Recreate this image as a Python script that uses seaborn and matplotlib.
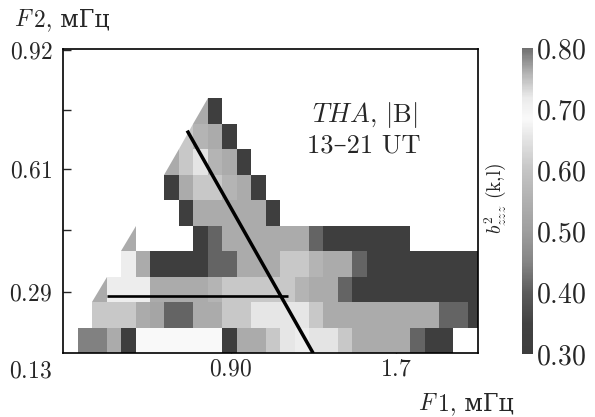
import numpy as np
import pandas as pd
import matplotlib
matplotlib.use("Agg")
import matplotlib.pyplot as plt
import seaborn as sns
from matplotlib.colors import LinearSegmentedColormap, Normalize
from matplotlib.offsetbox import TextArea, HPacker, AnnotationBbox

n = np.nan
F0 = 0.13      # mHz, first frequency bin
DF = 0.0665    # mHz per bin

# bicoherence b^2_zzz(k,l); row 0 = lowest F2 bin, 29 F1 bins per row
row0 = [n, .445, .445, .535, .31, .685, .685, .685, .685, .685, .685, .31, .535, .535, .605, .655, .665, .65, .65, .605, .535, .535, .535, .535, .41, .31, .31, n, n]
row1 = [n, n, .605, .605, .605, .535, .52, .41, .41, .535, .535, .605, .605, .655, .655, .655, .655, .605, .535, .535, .535, .535, .535, .535, .535, .535, .41, .41, .31]
row2 = [n, n, n, .665, .665, .665, .535, .535, .535, .535, .56, .605, .605, .605, .605, .605, .56, .535, .535, .41, .31, .31, .31, .31, .31, .31, .31, .31, .31]
row3 = [n, n, n, n, .665, .535, .31, .31, .31, .31, .41, .41, .535, .535, .535, .605, .605, .56, .535, .535, .41, .31, .31, .31, .31, .31, .31, .31, .31]
row4 = [n, n, n, n, n, n, n, n, n, .31, .41, .535, .535, .535, .535, .535, .535, .41, .31, .31, .31, .31, .31, .31, n, n, n, n, n]
row5 = [n, n, n, n, n, n, n, n, .31, .535, .535, .535, .535, .535, .31, n, n, n, n, n, n, n, n, n, n, n, n, n, n]
row6 = [n, n, n, n, n, n, n, .31, .535, .605, .605, .56, .535, .31, n, n, n, n, n, n, n, n, n, n, n, n, n, n, n]
row7 = [n, n, n, n, n, n, n, n, .605, .65, .56, .535, .31, n, n, n, n, n, n, n, n, n, n, n, n, n, n, n, n]
row8 = [n, n, n, n, n, n, n, n, n, .56, .535, .31, n, n, n, n, n, n, n, n, n, n, n, n, n, n, n, n, n]
row9 = [n, n, n, n, n, n, n, n, n, n, .31, n, n, n, n, n, n, n, n, n, n, n, n, n, n, n, n, n, n]
row10 = [n] * 29
row11 = [n] * 29

# edge cells cut along the diagonal (lower-right half filled)
half_rows = [9, 8, 7, 4, 2]
half_cols = [9, 8, 7, 4, 2]
half_vals = [.535, .605, .535, .535, .535]

# overlay lines (mHz)
sum_f1 = [0.70, 1.28]
sum_f2 = [0.71, 0.13]
hor_f1 = [0.33, 1.165]
hor_f2 = [0.28, 0.28]

# colour scale anchors (value, grey level)
cm_vals = [0.30, 0.35, 0.40, 0.45, 0.50, 0.55, 0.60, 0.65, 0.685, 0.72, 0.76, 0.80]
cm_grey = [0.24, 0.26, 0.36, 0.52, 0.62, 0.69, 0.77, 0.89, 0.98, 0.92, 0.70, 0.44]

xticks_f = [0.90, 1.66]
xtick_lab = ["$0.90$", "$1.7$"]
yticks_f = [0.29, 0.45, 0.61, 0.765, 0.92]
ytick_lab = ["$0.29$", "", "$0.61$", "", "$0.92$"]
cb_ticks = [0.30, 0.40, 0.50, 0.60, 0.70, 0.80]

rows = [row0, row1, row2, row3, row4, row5, row6, row7, row8, row9, row10, row11]
data = pd.DataFrame(rows)

vmin, vmax = 0.30, 0.80
cmap = LinearSegmentedColormap.from_list(
    "bic", [((v - vmin) / (vmax - vmin), (g, g, g)) for v, g in zip(cm_vals, cm_grey)])
norm = Normalize(vmin, vmax)

sns.set_style("white")
FAM = ["cmr10", "DejaVu Serif"]
plt.rcParams["font.family"] = FAM
plt.rcParams["mathtext.fontset"] = "cm"
plt.rcParams["axes.formatter.use_mathtext"] = True

fig = plt.figure(figsize=(5.95, 4.17), dpi=100)
ax = fig.add_axes([0.1064, 0.1528, 0.6975, 0.7285])
cax = fig.add_axes([0.8768, 0.151, 0.0195, 0.734])

sns.heatmap(data, ax=ax, cmap=cmap, vmin=vmin, vmax=vmax, cbar=True, cbar_ax=cax,
            xticklabels=False, yticklabels=False, linewidths=0)

for r, c, v in zip(half_rows, half_cols, half_vals):
    ax.fill([c, c + 1, c + 1], [r, r, r + 1], color=cmap(norm(v)), lw=0)

def fx(f):
    return (np.asarray(f) - F0) / DF

ax.plot(fx(sum_f1), fx(sum_f2), color="black", lw=2.5, solid_capstyle="butt")
ax.plot(fx(hor_f1), fx(hor_f2), color="black", lw=1.9, solid_capstyle="butt")

ax.set_xlim(0, 28.72)
ax.set_ylim(0, 11.9)
for s in ax.spines.values():
    s.set_visible(True)
    s.set_linewidth(1.2)
    s.set_color("black")
ax.set_xticks(fx(xticks_f))
ax.set_xticklabels(xtick_lab, fontsize=17)
ax.set_yticks(fx(yticks_f))
ax.set_yticklabels(ytick_lab, fontsize=17)
ax.tick_params(direction="in", length=6, width=1.0, left=True, bottom=True)
ax.tick_params(axis="x", pad=4)
ax.tick_params(axis="y", pad=8)
ax.set_xlabel("")
ax.set_ylabel("")

ax.annotate("$0.13$", xy=(0, 0), xytext=(-8, -5), textcoords="offset points",
            ha="right", va="top", fontsize=17)


def unit_label(sym, rest, xy_px, align):
    box = HPacker(children=[TextArea(sym, textprops=dict(fontsize=17)),
                            TextArea(rest, textprops=dict(fontsize=17, family=FAM))],
                  align="baseline", pad=0, sep=0)
    ab = AnnotationBbox(box, (xy_px[0] / 595, 1 - xy_px[1] / 417), xycoords="figure fraction",
                        box_alignment=align, frameon=False, pad=0)
    fig.add_artist(ab)


unit_label("$F$", "2, мГц", (14, 20), (0, 0.5))
unit_label("$F$", "1, мГц", (466, 404), (0.5, 0.5))

ax.text(0.725, 0.785, "$THA$, $|\\mathrm{B}|$", transform=ax.transAxes, ha="center",
        va="center", fontsize=19)
ax.text(0.725, 0.685, "13–21 UT", transform=ax.transAxes, ha="center",
        va="center", fontsize=19)

cb = ax.collections[0].colorbar
cb.set_ticks(cb_ticks)
cb.set_ticklabels(["$%.2f$" % t for t in cb_ticks])
cb.outline.set_visible(False)
cax.tick_params(length=0, labelsize=20, pad=2)
fig.text(495 / 595, 1 - 198 / 417, "$b^2_{zzz}$ (k,l)", rotation=90, ha="center",
         va="center", fontsize=14)

fig.savefig("out.png", dpi=100)
